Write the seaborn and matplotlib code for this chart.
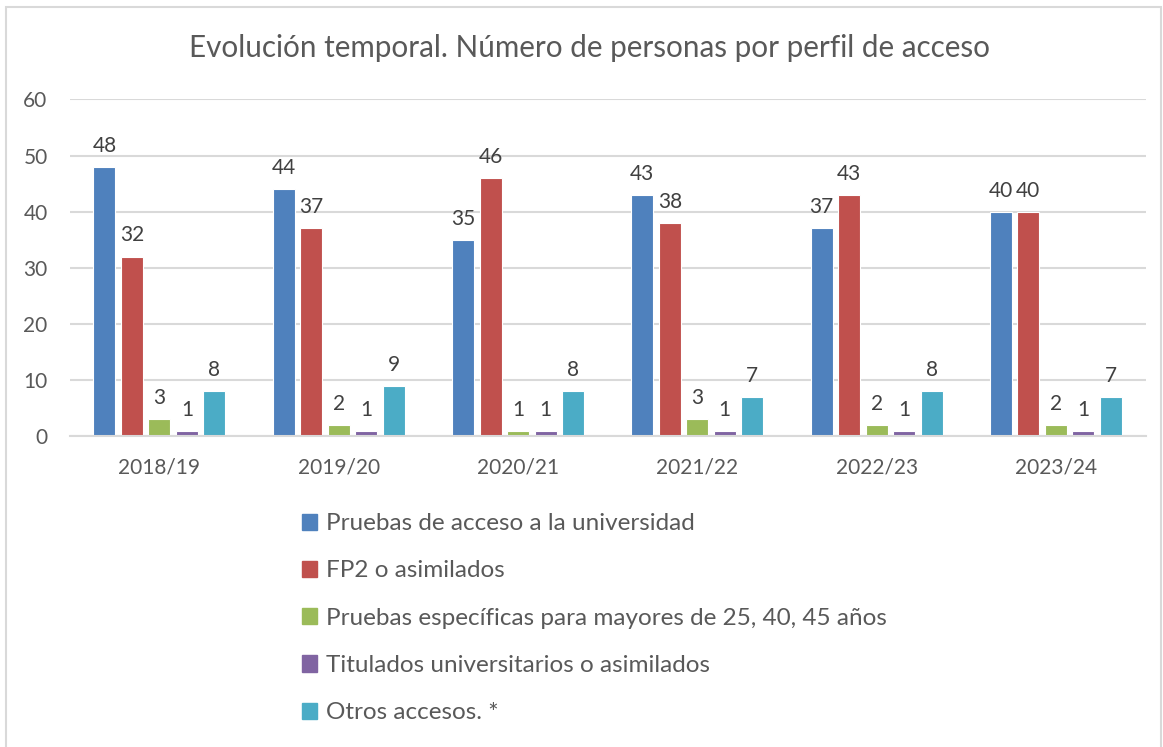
import matplotlib
matplotlib.use("Agg")
import matplotlib.pyplot as plt
import matplotlib.patches as mpatches
import seaborn as sns
import pandas as pd

# Data
cursos = ["2018/19", "2019/20", "2020/21", "2021/22", "2022/23", "2023/24"]
perfiles = [
    "Pruebas de acceso a la universidad",
    "FP2 o asimilados",
    "Pruebas específicas para mayores de 25, 40, 45 años",
    "Titulados universitarios o asimilados",
    "Otros accesos. *",
]
pau = [48, 44, 35, 43, 37, 40]
fp2 = [32, 37, 46, 38, 43, 40]
mayores = [3, 2, 1, 3, 2, 2]
titulados = [1, 1, 1, 1, 1, 1]
otros = [8, 9, 8, 7, 8, 7]
colores = ["#4F81BD", "#C0504D", "#9BBB59", "#8064A2", "#4BACC6"]

series = [pau, fp2, mayores, titulados, otros]
rows = []
for perfil, vals in zip(perfiles, series):
    for curso, v in zip(cursos, vals):
        rows.append({"curso": curso, "perfil": perfil, "n": v})
df = pd.DataFrame(rows)

sns.set_theme(style="white")
plt.rcParams["font.family"] = ["Lato", "DejaVu Sans"]

fig = plt.figure(figsize=(11.63, 7.47), dpi=100)
ax = fig.add_axes([0.060, 0.416, 0.925, 0.451])

sns.barplot(
    data=df, x="curso", y="n", hue="perfil", palette=colores, saturation=1,
    width=0.767, gap=0.2, edgecolor="white", linewidth=0.8,
    legend=False, ax=ax,
)

for cont in ax.containers:
    ax.bar_label(cont, padding=8, fontsize=15, color="#404040")

ax.set_ylim(0, 60)
ax.set_yticks(range(0, 61, 10))
ax.yaxis.grid(True, color="#D9D9D9", linewidth=1.5)
ax.set_axisbelow(True)
for s in ["top", "right", "left"]:
    ax.spines[s].set_visible(False)
ax.spines["bottom"].set_color("#D9D9D9")
ax.spines["bottom"].set_linewidth(1.5)
ax.tick_params(axis="both", length=0, labelsize=15, labelcolor="#595959")
ax.tick_params(axis="y", pad=16)
ax.tick_params(axis="x", pad=15)
ax.set_xlabel("")
ax.set_ylabel("")

fig.text(0.507, 0.936, "Evolución temporal. Número de personas por perfil de acceso",
         ha="center", va="center", fontsize=21.3, color="#595959")

handles = [mpatches.Patch(color=c, label=p) for c, p in zip(colores, perfiles)]
fig.legend(handles=handles, loc="upper left", bbox_to_anchor=(0.251, 0.326),
           frameon=False, fontsize=17.5, labelcolor="#595959",
           handlelength=0.65, handleheight=0.65, handletextpad=0.35,
           labelspacing=1.08, borderaxespad=0)

# chart frame
fig.patches.append(mpatches.Rectangle((0.005, -0.01), 0.993, 1.0, transform=fig.transFigure,
                                      fill=False, edgecolor="#D9D9D9", linewidth=1.5))

fig.savefig("out.png", dpi=100)
